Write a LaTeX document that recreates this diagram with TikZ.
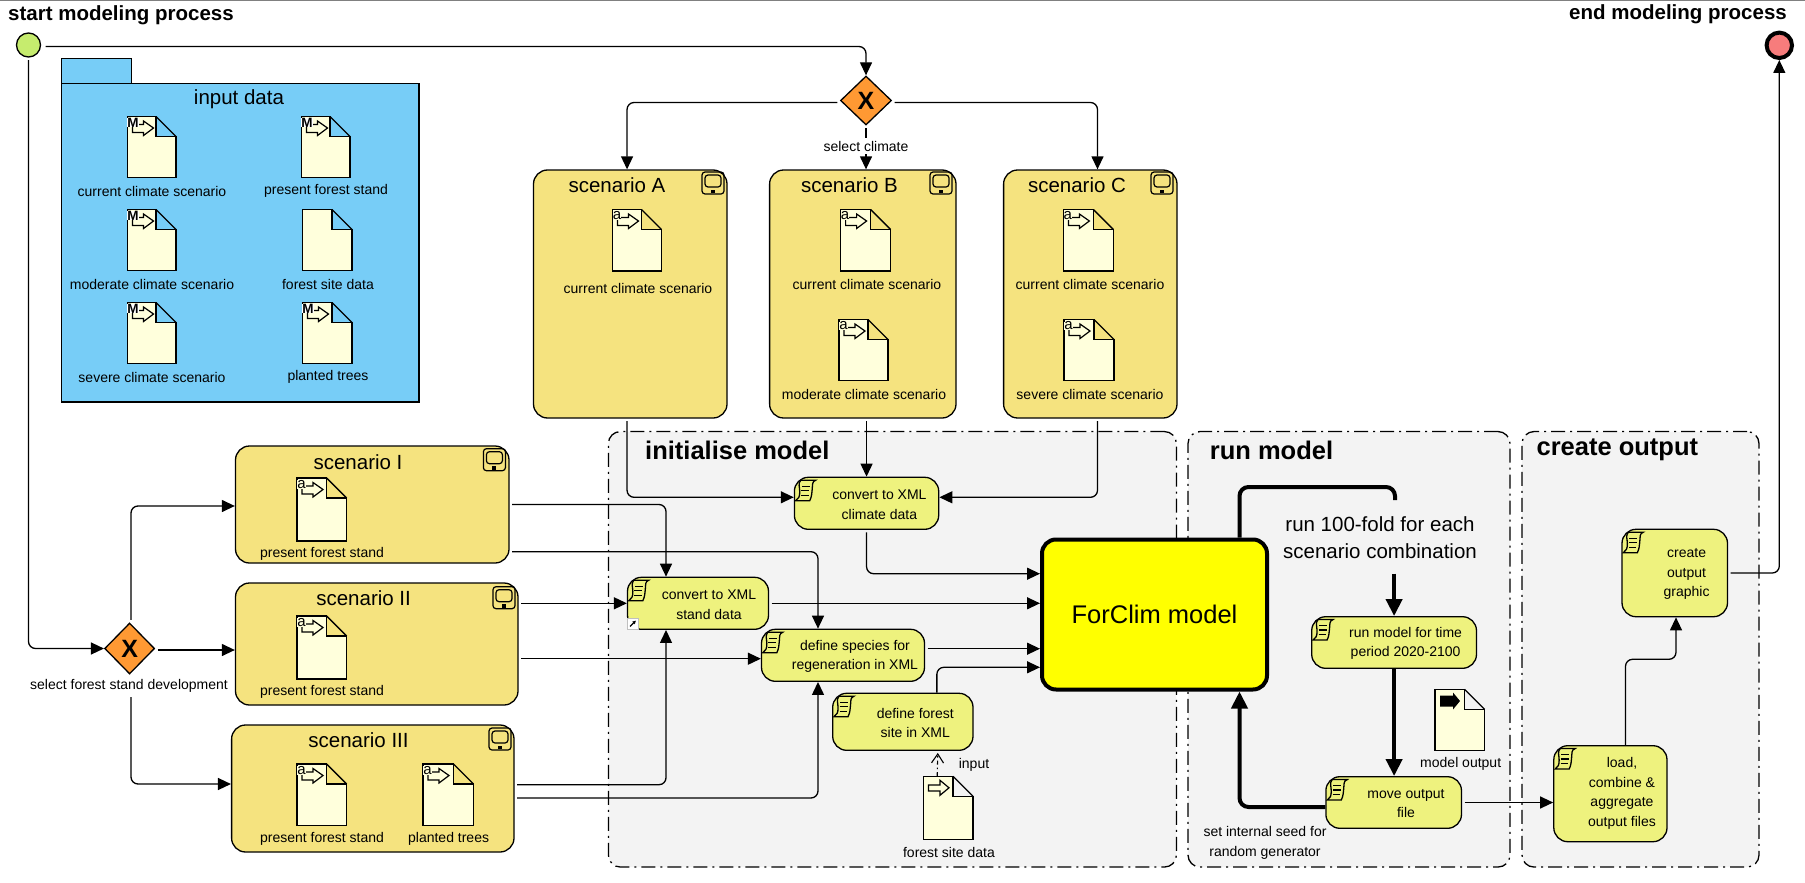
\documentclass[tikz,border=0pt]{standalone}
\usepackage{fontspec}
\setmainfont{Liberation Sans}
\usetikzlibrary{arrows.meta,shapes.geometric}
\definecolor{pkgblue}{HTML}{77CDF7}
\definecolor{docfill}{HTML}{FFFFDC}
\definecolor{scenfill}{HTML}{F5E37F}
\definecolor{taskfill}{HTML}{EEF27E}
\definecolor{gatefill}{HTML}{FF9933}
\definecolor{lanefill}{HTML}{F3F3F3}
\definecolor{startfill}{HTML}{C6EC6E}
\definecolor{endfill}{HTML}{F77C7C}
\definecolor{modelfill}{HTML}{FFFF00}
\tikzset{
	lbl/.style={font=\fontsize{14}{19.5}\selectfont,align=center,inner sep=0pt},
	scentitle/.style={font=\fontsize{20.5}{24}\selectfont,inner sep=0pt},
	heading/.style={font=\bfseries\fontsize{20.5}{24}\selectfont,inner sep=0pt},
	lanetitle/.style={font=\bfseries\fontsize{25.5}{30}\selectfont,inner sep=0pt},
	lane/.style={draw,line width=1.3pt,fill=lanefill,rounded corners=12pt,dash pattern=on 14pt off 5pt on 2pt off 5pt,inner sep=0pt},
	scen/.style={draw,line width=1.3pt,fill=scenfill,rounded corners=14pt,inner sep=0pt},
	taskbox/.style={draw,line width=1.3pt,fill=taskfill,rounded corners=14pt,inner sep=0pt},
	gateway/.style={draw,line width=1.3pt,fill=gatefill,diamond,aspect=1,inner sep=0pt,font=\bfseries\fontsize{25}{25}\selectfont},
	flow/.style={-{Triangle[length=13pt,width=12pt]},line width=1.3pt,rounded corners=7pt,shorten <=2.5pt},
	loopflow/.style={line width=4pt,rounded corners=9pt},
	loopend/.style={loopflow,-{Triangle[length=17pt,width=16pt]}},
	pics/docfile/.style 2 args={code={
		\draw[line width=1.3pt,fill=docfill] (0,0) -- (#1-20,0) -- (#1-20,20) -- (#1,20) -- (#1,#2) -- (0,#2) -- cycle;
		\draw[line width=1.3pt] (#1-20,0) -- (#1,20);
		\node[inner sep=0pt,minimum width=#1,minimum height=#2] (-body) at (#1/2,#2/2) {};
	}},
	pics/markarrow/.style={code={
		\draw[line width=1.2pt,fill=docfill] (5,8) -- (16,8) -- (16,4.5) -- (26,11.5) -- (16,19) -- (16,16) -- (5,16) -- cycle;
	}},
	pics/markM/.style={code={
		\pic {markarrow};
		\node[font=\bfseries\fontsize{13.5}{13.5}\selectfont,fill=white,inner sep=0pt] at (5.5,6) {M};
	}},
	pics/marka/.style={code={
		\pic {markarrow};
		\node[font=\fontsize{15}{15}\selectfont,fill=docfill,inner sep=0pt] at (4.5,6.5) {a};
	}},
	pics/scroll/.style={code={
		\draw[line width=1.3pt] (7,3.5) -- (22,3.5) .. controls (18,5) and (19,8) .. (18.5,12) .. controls (18,17) and (18,20) .. (16,24) -- (2,24) .. controls (5,22) and (6,20) .. (6,15) .. controls (6,10) and (4,7) .. (7,3.5) -- cycle;
		\draw[line width=1.3pt] (8,9.5) -- (16,9.5) (7.5,14) -- (15.5,14) (7.5,18.5) -- (15,18.5);
	}},
	pics/device/.style={code={
		\draw[line width=1.2pt,rounded corners=3pt] (0,0) rectangle (22,22);
		\draw[line width=1.2pt,rounded corners=3pt] (3,3) rectangle (19,15);
		\fill (9,17.5) rectangle (13,21);
	}}
}
\begin{document}
\begin{tikzpicture}[x=1pt,y=-1pt]
	\useasboundingbox (0,0) rectangle (1805,883);
	\draw[gray,line width=1.5pt] (0,0.7) -- (1805,0.7);

	\node[heading] (startTxt) at (121,15) {start modeling process};
	\node[heading] (endTxt) at (1678,14) {end modeling process};
	\node[draw,circle,line width=1.3pt,fill=startfill,minimum size=24,inner sep=0pt] (startev) at (28.5,45) {};
	\node[draw,circle,line width=4pt,fill=endfill,minimum size=25.4,inner sep=0pt] (endev) at (1779.3,45.3) {};

	\node[draw,line width=1.3pt,fill=pkgblue,minimum width=70.3,minimum height=25,inner sep=0pt] (pkgTab) at (96.45,71) {};
	\node[draw,line width=1.3pt,fill=pkgblue,minimum width=357.7,minimum height=318.4,inner sep=0pt] (pkgBody) at (240.15,242.8) {};
	\node[scentitle] (pkgTxt) at (239,99) {input data};

	\foreach \nm/\cx/\wb/\tl/\tx in {lInit/892.4/568/645/initialise model,lRun/1349/322/1209.7/run model,lOut/1640.5/237/1536.4/create output} {
		\node[lane,minimum width=\wb,minimum height=435.5] (\nm) at (\cx,649.3) {};
		\node[lanetitle,anchor=west] (\nm Txt) at (\tl,450) {\tx};
	}

	\foreach \nm/\cx/\cy/\wb/\hb/\tx/\ty/\title/\ix/\iy in {
		scA/630.25/294/193.5/248/617/185/scenario A/702/172,
		scB/862.8/294/186.4/248/849.5/185/scenario B/930/172,
		scC/1090.3/294/173.4/248/1077/185/scenario C/1151/172,
		scI/372.25/504.5/273.5/117/358/461.7/scenario I/483.4/448.7,
		scII/376.75/644/282.5/122/363.6/598/scenario II/493/586.7,
		scIII/372.8/788.5/282.4/127/358.5/740/scenario III/489/728} {
		\node[scen,minimum width=\wb,minimum height=\hb] (\nm) at (\cx,\cy) {};
		\node[scentitle] (\nm Txt) at (\tx,\ty) {\title};
		\pic at (\ix,\iy) {device};
	}

	\foreach \nm/\dx/\dy/\dw/\dh/\lx/\ly/\txt in {
		inCur/127.5/116.5/48.5/61/152/191/current climate scenario,
		inMod/127.5/209.5/48.5/61/152/284/moderate climate scenario,
		inSev/127.5/302.5/48.5/61/152/377/severe climate scenario,
		inStand/301.5/116.5/48.5/61/326/191/present forest stand,
		inTrees/302.5/302.5/49.5/61/328/377/planted trees} {
		\pic (\nm) at (\dx,\dy) {docfile={\dw}{\dh}};
		\pic at (\dx,\dy) {markM};
		\node[lbl] (\nm Txt) at (\lx,\ly) {\txt};
	}
	\pic (inSite) at (302.5,209.5) {docfile={49.5}{61}};
	\node[lbl] (inSiteTxt) at (328,284) {forest site data};

	\foreach \nm/\dx/\dy/\dw/\dh/\lx/\ly/\txt in {
		aCur/612.5/209.5/49/61.5/638/288/current climate scenario,
		bCur/840.6/209.5/50/61.5/867/284/current climate scenario,
		bMod/839/319.5/49/61/864/394/moderate climate scenario,
		cCur/1063.4/209.5/50/61.5/1090/284/current climate scenario,
		cSev/1064/319.5/50/61/1090/394/severe climate scenario,
		iStand/297/478/49.6/63/322/554/present forest stand,
		iiStand/297/616/49.6/63/322/692/present forest stand,
		iiiStand/297/764/49.6/61.7/322/839/present forest stand,
		iiiTrees/423/764/50.5/61.7/448.6/839/planted trees} {
		\pic (\nm) at (\dx,\dy) {docfile={\dw}{\dh}};
		\pic at (\dx,\dy) {marka};
		\node[lbl] (\nm Txt) at (\lx,\ly) {\txt};
	}

	\foreach \nm/\cx/\cy/\wb/\hb in {
		climate/866.55/503.3/144.3/52,
		stand/698/603.3/141/52,
		species/843/655.3/163/52,
		forest/902.85/721.8/140.3/57,
		runmodel/1394.1/642.5/164.8/51.6,
		movefile/1393.7/802.5/135.6/51.6,
		load/1610.4/793.7/113.2/96,
		create/1674.75/573/105.5/87.4} {
		\node[taskbox,minimum width=\wb,minimum height=\hb] (\nm) at (\cx,\cy) {};
		\pic at (\nm.north west) {scroll};
	}
	\node[lbl] (climateTxt) at (879.4,504.6) {convert to XML\\climate data};
	\node[lbl] (standTxt) at (709,604.5) {convert to XML\\stand data};
	\node[lbl] (speciesTxt) at (855,656.6) {define species for\\regeneration in XML};
	\node[lbl] (forestTxt) at (915.3,723) {define forest\\site in XML};
	\node[lbl] (runmodelTxt) at (1405.6,643.6) {run model for time\\period 2020-2100};
	\node[lbl] (movefileTxt) at (1406,803.6) {move output\\file};
	\node[lbl] (loadTxt) at (1622,793.3) {load,\\combine \&\\aggregate\\output files};
	\node[lbl] (createTxt) at (1686.6,574.2) {create\\output\\graphic};
	\draw[line width=0.8pt,draw=gray!50,fill=white] (627.5,618) rectangle (638.6,629);
	\draw[line width=1.1pt,-{Latex[length=3.5pt,width=4pt]}] (630,626.5) -- (636,620.5);

	\node[draw,line width=4pt,fill=modelfill,rounded corners=14pt,minimum width=225,minimum height=150,inner sep=0pt,font=\fontsize{25.5}{30}\selectfont] (model) at (1154.5,614.5) {ForClim model};

	\node[font=\fontsize{20.5}{27}\selectfont,align=center,inner sep=0pt,minimum height=72] (run100) at (1380,537.5) {run 100-fold for each\\scenario combination};

	\pic (fsdoc) at (923.4,776.3) {docfile={49.6}{63}};
	\draw[line width=1.2pt,fill=docfill] (928.4,785) -- (940,785) -- (940,780.3) -- (949,787.8) -- (940,795.3) -- (940,791) -- (928.4,791) -- cycle;
	\node[lbl] (fsdocTxt) at (949,852) {forest site data};
	\node[lbl] (inputTxt) at (974,765) {input};

	\pic (outdoc) at (1435,689.3) {docfile={49.6}{61.4}};
	\fill (1440,695.5) -- (1453,695.5) -- (1453,692.5) -- (1460,701) -- (1453,709.5) -- (1453,706.5) -- (1440,706.5) -- cycle;
	\node[lbl] (outdocTxt) at (1460.7,764.3) {model output};
	\node[lbl] (seedTxt) at (1265,842.8) {set internal seed for\\random generator};

	\node[gateway,minimum width=51,minimum height=49] (gateC) at (866,100.5) {X};
	\node[gateway,minimum width=50,minimum height=51] (gateF) at (129.6,648.5) {X};

	\draw[flow] ([yshift=-1.5pt,xshift=2pt]startev.east) -| (gateC.north);
	\draw[flow] (startev.south) |- (gateF.west);
	\draw[flow] ([yshift=-2pt]gateC.west) -| ([xshift=-3.2pt]scA.north);
	\draw[flow] ([yshift=-2pt]gateC.east) -| ([xshift=7.2pt]scC.north);
	\draw[flow] (gateC.south) -- (gateC.south |- scB.north);
	\node[lbl,fill=white,inner ysep=3pt,inner xsep=2pt] (selClimate) at (866,146) {select climate};

	\draw[flow] ([xshift=1.4pt]gateF.north) |- ([yshift=-1.5pt]scI.west);
	\draw[flow] ([yshift=-1.5pt]gateF.east) -- ([yshift=-1.5pt]gateF.east -| scII.west);
	\node[lbl,fill=white,inner ysep=2pt] (selStand) at (129,686) {select forest stand development};
	\draw[flow] ([xshift=2pt]selStand.south) |- ([yshift=4.5pt]scIII.west);

	\draw[flow] ([xshift=-3.2pt]scA.south) |- ([yshift=6pt]climate.west);
	\draw[flow] ([xshift=3.75pt]scB.south) -- (climate.north);
	\draw[flow] ([xshift=7.2pt]scC.south) |- ([yshift=6pt]climate.east);
	\draw[flow] (scI.east) -| ([xshift=-32pt]stand.north);
	\draw[flow] ([yshift=-47.2pt]scI.east) -| ([xshift=-25pt]species.north);
	\draw[flow] ([yshift=40.7pt]scII.east) -- (stand.west);
	\draw[flow] ([yshift=-14.7pt]scII.east) -- ([yshift=-3.4pt]species.west);
	\draw[flow] ([yshift=3.8pt]scIII.east) -| ([xshift=-32pt]stand.south);
	\draw[flow] ([yshift=-9.5pt]scIII.east) -| ([xshift=-25pt]species.south);

	\draw[flow] (climate.south) |- ([yshift=40.8pt]model.west);
	\draw[flow] (stand.east) -- ([yshift=11.2pt]model.west);
	\draw[flow] ([yshift=6.6pt]species.east) -- ([yshift=-34.2pt]model.west);
	\draw[flow,shorten <=0pt] ([xshift=34pt]forest.north) |- ([yshift=-52.8pt]model.west);
	\draw[line width=1.1pt,dash pattern=on 4pt off 3pt on 1.5pt off 3pt,-{Straight Barb[length=9pt,width=12pt]},shorten >=2pt] ([xshift=-11pt]fsdoc-body.north) -- ([xshift=35pt]forest.south);

	\coordinate (loopTop) at (1395,487);
	\coordinate (loopEnd) at (1395,500);
	\draw[loopflow] ([xshift=85pt]model.north) |- (loopTop) -- (loopEnd);
	\draw[loopend] ([xshift=14.1pt]run100.south) -- (runmodel.north);
	\draw[loopend] (runmodel.south) -- (runmodel.south |- movefile.north);
	\draw[loopend] ([yshift=-4.5pt]movefile.west) -| ([xshift=85pt]model.south);

	\coordinate (loadBend) at (1650,659.3);
	\draw[flow] (movefile.east) -- (movefile.east -| load.west);
	\draw[flow,shorten <=0pt] ([xshift=15.1pt]load.north) |- (loadBend) -| ([xshift=1.25pt]create.south);
	\draw[flow] (create.east) -| (endev.south);
\end{tikzpicture}
\end{document}
